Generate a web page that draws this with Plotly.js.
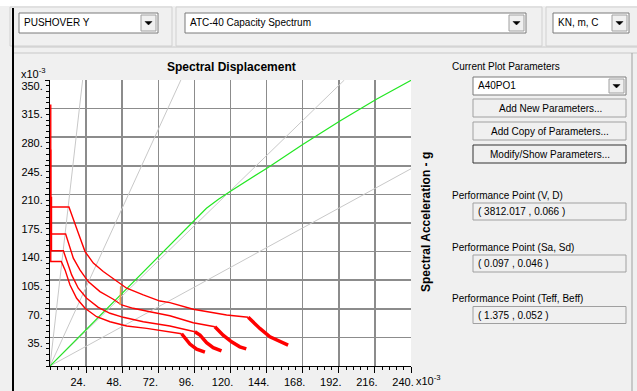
<!DOCTYPE html>
<html><head><meta charset="utf-8">
<script src="https://cdn.plot.ly/plotly-3.0.1.min.js"></script>
<style>html,body{margin:0;padding:0;background:#f0f0f0;}#chart{width:637px;height:391px;}</style>
</head><body><div id="chart"></div>
<script>
// ---------- data ----------
const xTickVals = [24, 48, 72, 96, 120, 144, 168, 192, 216, 240];
const xTickText = ['24.', '48.', '72.', '96.', '120.', '144.', '168.', '192.', '216.', '240.'];
const yTickVals = [35, 70, 105, 140, 175, 210, 245, 280, 315, 350];
const yTickText = ['35.', '70.', '105.', '140.', '175.', '210.', '245.', '280.', '315.', '350.'];

// constant-period radial lines (T = 0.5, 1.0, 1.5, 2.0 s)
const periodX = [[0, 21.7], [0, 87.0], [0, 195.7], [0, 240]];
const periodY = [[0, 350], [0, 350], [0, 350], [0, 241.4]];

// capacity spectrum (green)
const capX = [0, 97, 104, 112, 120, 145, 168, 193, 217, 240];
const capY = [0, 181, 193, 204, 214, 243, 271, 300, 326.5, 349.6];

// demand spectra (red) - main branch
const demAX = [0.5, 0.5, 12.6, 15.5, 18.8, 23.3, 28.8, 35.4, 43.2, 51, 62, 73.1, 79.7, 95.2, 117.4, 131.8];
const demAY = [320, 194.6, 194.6, 179, 162.7, 140, 125.9, 115.6, 105.4, 95.2, 87, 79.5, 77.5, 69.4, 62.4, 59.6];
const demBX = [0.5, 0.5, 10.4, 12.2, 15.5, 19.9, 25.4, 33.2, 42.1, 47.6, 55.3, 66.4, 79.7, 95.2, 109.6];
const demBY = [265, 161.5, 161.5, 150.4, 132, 117.6, 103.3, 91, 81.7, 74.7, 70.6, 66.4, 61.5, 52.9, 48];
const demCX = [1.0, 1.0, 8.9, 11.1, 14.4, 18.8, 24.4, 32.1, 39.9, 48.7, 62, 79.7, 88, 96.3];
const demCY = [207, 141, 141, 129.9, 111.5, 95.2, 82.9, 71.8, 64.5, 59.6, 54.2, 48.9, 45.5, 41.9];
const demDX = [0.5, 0.5, 7.5, 10, 13.3, 17.7, 23.3, 31, 39.9, 51, 64.3, 79.7, 87.5];
const demDY = [175, 127.9, 127.9, 117.6, 99.2, 82.9, 70.6, 60.3, 54.2, 48.9, 46, 41.5, 39.5];
// demand spectra (red) - steep tails
const tailAX = [131.8, 139.5, 146.2, 152.8, 158.3];
const tailAY = [59.6, 46, 35.7, 29.6, 25.5];
const tailBX = [109.6, 115.1, 120.7, 126.2, 130.5];
const tailBY = [48, 37.8, 29.6, 23.5, 21];
const tailCX = [96.3, 99.7, 104.1, 108.5, 114];
const tailCY = [41.9, 37.8, 28.5, 22.5, 18.5];
const tailDX = [87.5, 90.5, 93, 97.5, 103];
const tailDY = [39.5, 33, 26.8, 20.5, 17];

// performance point segment (orange)
const ppX = [47.0, 46.6];
const ppY = [97.5, 74.7];

// dialog texts
const comboCase = 'PUSHOVER Y';
const comboPlot = 'ATC-40 Capacity Spectrum';
const comboUnits = 'KN, m, C';
const paramLabel = 'Current Plot Parameters';
const paramName = 'A40PO1';
const buttonTexts = ['Add New Parameters...', 'Add Copy of Parameters...', 'Modify/Show Parameters...'];
const perfLabels = ['Performance Point (V, D)', 'Performance Point (Sa, Sd)', 'Performance Point (Teff, Beff)'];
const perfValues = ['( 3812.017 , 0.066 )', '( 0.097 , 0.046 )', '( 1.375 , 0.052 )'];

// ---------- layout geometry ----------
const ML = 50, MT = 80, MR = 226, MB = 25, FW = 637, FH = 391;
const PW = FW - ML - MR, PH = FH - MT - MB;
const px = X => (X - ML) / PW;
const py = Y => (FH - MB - Y) / PH;

const shapes = [];
const ann = [];
const UI = "'Liberation Sans', Arial, sans-serif";
function rect(x0, y0, x1, y1, fill, line, lw) {
  shapes.push({type: 'rect', xref: 'paper', yref: 'paper', x0: px(x0), x1: px(x1), y0: py(y1), y1: py(y0),
    fillcolor: fill, line: {color: line, width: lw === undefined ? 1 : lw}, layer: 'above'});
}
function hline(x0, x1, y, color, w) {
  shapes.push({type: 'line', xref: 'paper', yref: 'paper', x0: px(x0), x1: px(x1), y0: py(y), y1: py(y), line: {color: color, width: w || 1}, layer: 'above'});
}
function vline(x, y0, y1, color, w) {
  shapes.push({type: 'line', xref: 'paper', yref: 'paper', x0: px(x), x1: px(x), y0: py(y0), y1: py(y1), line: {color: color, width: w || 1}, layer: 'above'});
}
function text(t, x, y, opts) {
  opts = opts || {};
  ann.push({text: t, xref: 'paper', yref: 'paper', x: px(x), y: py(y), showarrow: false,
    xanchor: opts.xanchor || 'left', yanchor: 'middle', textangle: opts.angle || 0,
    font: {family: opts.family || UI, size: opts.size || 10, color: '#000', weight: opts.weight || 'normal'}});
}
function arrowBtn(x0, y0, x1, y1) {
  rect(x0, y0, x1, y1, '#f0f0f0', '#a0a0a0');
  const cx = (x0 + x1) / 2, cy = (y0 + y1) / 2;
  shapes.push({type: 'path', xref: 'paper', yref: 'paper', layer: 'above',
    path: `M ${px(cx - 3.5)} ${py(cy - 1.5)} L ${px(cx + 3.5)} ${py(cy - 1.5)} L ${px(cx)} ${py(cy + 2)} Z`,
    fillcolor: '#000', line: {color: '#000', width: 0.5}});
}
function combo(x0, y0, x1, y1, label) {
  rect(x0, y0, x1, y1, '#ffffff', '#7a7a7a');
  arrowBtn(x1 - 17, y0 + 2, x1 - 2, y1 - 2);
  text(label, x0 + 3, (y0 + y1) / 2);
}

// top strip
rect(0, 0, 637, 6, '#ffffff', '#ffffff', 0);
rect(10, 7, 172, 46, 'rgba(0,0,0,0)', '#d0d0d0');
rect(176, 7, 542, 46, 'rgba(0,0,0,0)', '#d0d0d0');
rect(546, 7, 640, 46, 'rgba(0,0,0,0)', '#d0d0d0');
combo(19, 13, 158, 33, comboCase);
combo(185, 13, 526, 33, comboPlot);
combo(553, 13, 629, 33, comboUnits);
hline(12, 637, 47, '#c8c8c8');
hline(12, 637, 53, '#c8c8c8');
vline(13, 8, 391, '#000000', 2);
vline(632, 53, 391, '#a0a0a0', 1);

// right panel
text(paramLabel, 450, 66);
combo(473, 77, 626, 95, paramName);
const btnY = [[99, 117], [122, 140], [145, 163]];
btnY.forEach((b, i) => {
  rect(473, b[0], 626, b[1], '#f0f0f0', i === 2 ? '#333333' : '#a0a0a0');
  text(buttonTexts[i], 550, (b[0] + b[1]) / 2, {xanchor: 'center'});
});
const perfY = [195, 247, 298.5];
perfY.forEach((y, i) => {
  text(perfLabels[i], 450, y);
  rect(473, y + 8, 626, y + 25, '#f0f0f0', '#a0a0a0');
  text(perfValues[i], 476, y + 16.5);
});

// chart texts
const AR = 'Arial, Liberation Sans, sans-serif';
text('Spectral Displacement', 232, 67, {xanchor: 'center', family: AR, size: 12, weight: 'bold'});
text('Spectral Acceleration - g', 426, 222, {xanchor: 'center', family: AR, size: 12, weight: 'bold', angle: -90});
text('x10<sup>-3</sup>', 19, 73, {family: AR, size: 11});
text('x10<sup>-3</sup>', 414, 380, {family: AR, size: 11});

// ---------- traces ----------
const traces = [];
periodX.forEach((xs, i) => traces.push({x: xs, y: periodY[i], mode: 'lines', line: {color: '#c8c8c8', width: 1}, hoverinfo: 'skip'}));
traces.push({x: capX, y: capY, mode: 'lines', line: {color: '#22e622', width: 1.2}});
[[demAX, demAY], [demBX, demBY], [demCX, demCY], [demDX, demDY]].forEach(d =>
  traces.push({x: d[0], y: d[1], mode: 'lines', line: {color: '#ff0000', width: 1.4}}));
[[tailAX, tailAY], [tailBX, tailBY], [tailCX, tailCY], [tailDX, tailDY]].forEach(d =>
  traces.push({x: d[0], y: d[1], mode: 'lines', line: {color: '#ff0000', width: 3.5}}));
traces.push({x: ppX, y: ppY, mode: 'lines', line: {color: '#f5a050', width: 1.5}});

const axisFont = {family: AR, size: 11, color: '#000'};
const layout = {
  width: FW, height: FH,
  margin: {l: ML, r: MR, t: MT, b: MB, pad: 0},
  paper_bgcolor: '#f0f0f0', plot_bgcolor: '#ffffff',
  showlegend: false,
  xaxis: {range: [0, 240], tickvals: xTickVals, ticktext: xTickText, tickfont: axisFont,
    showgrid: true, gridcolor: '#8c8c8c', gridwidth: 1.5, zeroline: false,
    showline: true, linecolor: '#000', linewidth: 1,
    ticks: 'outside', ticklen: 6, tickcolor: '#000', tickwidth: 1, ticklabelshift: -8,
    minor: {dtick: 4.8, ticks: 'outside', ticklen: 3, tickcolor: '#000', showgrid: false},
    fixedrange: true},
  yaxis: {range: [0, 350], tickvals: yTickVals, ticktext: yTickText, tickfont: axisFont,
    showgrid: true, gridcolor: '#8c8c8c', gridwidth: 1.5, zeroline: false,
    showline: true, linecolor: '#000', linewidth: 1,
    ticks: 'outside', ticklen: 4, tickcolor: '#000', tickwidth: 1, ticklabelshift: 6,
    minor: {dtick: 7, ticks: 'outside', ticklen: 3, tickcolor: '#000', showgrid: false},
    fixedrange: true},
  shapes: shapes, annotations: ann
};
Plotly.newPlot('chart', traces, layout, {displayModeBar: false, staticPlot: true});
</script></body></html>
